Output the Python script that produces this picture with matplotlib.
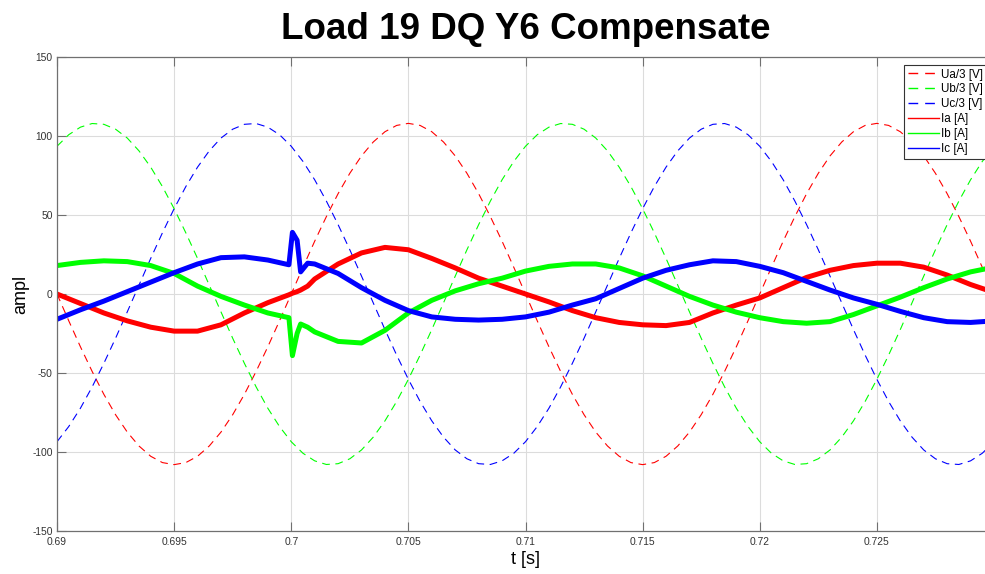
import numpy as np
from matplotlib import pyplot as plt

plt.rcParams['font.family'] = ['Liberation Sans', 'DejaVu Sans']
plt.rcParams['axes.unicode_minus'] = False

# phase voltages (divided by 3), sampled every 0.5 ms from t = 0.690 s
T0_U = 0.690
DT_U = 0.0005
UA = [
    0, -16.9, -33.4, -49.0, -63.5, -76.4, -87.4, -96.2, -102.7, -106.7,
    -108.0, -106.7, -102.7, -96.2, -87.4, -76.4, -63.5, -49.0, -33.4, -16.9,
    0, 16.9, 33.4, 49.0, 63.5, 76.4, 87.4, 96.2, 102.7, 106.7,
    108.0, 106.7, 102.7, 96.2, 87.4, 76.4, 63.5, 49.0, 33.4, 16.9,
    0, -16.9, -33.4, -49.0, -63.5, -76.4, -87.4, -96.2, -102.7, -106.7,
    -108.0, -106.7, -102.7, -96.2, -87.4, -76.4, -63.5, -49.0, -33.4, -16.9,
    0, 16.9, 33.4, 49.0, 63.5, 76.4, 87.4, 96.2, 102.7, 106.7,
    108.0, 106.7, 102.7, 96.2, 87.4, 76.4, 63.5, 49.0, 33.4, 16.9,
    0,
]
UB = [
    93.5, 100.8, 105.6, 107.9, 107.4, 104.3, 98.7, 90.6, 80.3, 68.0,
    54.0, 38.7, 22.5, 5.6, -11.3, -28.0, -43.9, -58.8, -72.3, -83.9,
    -93.5, -100.8, -105.6, -107.9, -107.4, -104.3, -98.7, -90.6, -80.3, -68.0,
    -54.0, -38.7, -22.5, -5.6, 11.3, 28.0, 43.9, 58.8, 72.3, 83.9,
    93.5, 100.8, 105.6, 107.9, 107.4, 104.3, 98.7, 90.6, 80.3, 68.0,
    54.0, 38.7, 22.5, 5.6, -11.3, -28.0, -43.9, -58.8, -72.3, -83.9,
    -93.5, -100.8, -105.6, -107.9, -107.4, -104.3, -98.7, -90.6, -80.3, -68.0,
    -54.0, -38.7, -22.5, -5.6, 11.3, 28.0, 43.9, 58.8, 72.3, 83.9,
    93.5,
]
UC = [
    -93.5, -83.9, -72.3, -58.8, -43.9, -28.0, -11.3, 5.6, 22.5, 38.7,
    54.0, 68.0, 80.3, 90.6, 98.7, 104.3, 107.4, 107.9, 105.6, 100.8,
    93.5, 83.9, 72.3, 58.8, 43.9, 28.0, 11.3, -5.6, -22.5, -38.7,
    -54.0, -68.0, -80.3, -90.6, -98.7, -104.3, -107.4, -107.9, -105.6, -100.8,
    -93.5, -83.9, -72.3, -58.8, -43.9, -28.0, -11.3, 5.6, 22.5, 38.7,
    54.0, 68.0, 80.3, 90.6, 98.7, 104.3, 107.4, 107.9, 105.6, 100.8,
    93.5, 83.9, 72.3, 58.8, 43.9, 28.0, 11.3, -5.6, -22.5, -38.7,
    -54.0, -68.0, -80.3, -90.6, -98.7, -104.3, -107.4, -107.9, -105.6, -100.8,
    -93.5,
]

# phase currents (denser around the switching transient at 0.7 s)
T_I = [
    0.690, 0.691, 0.692, 0.693, 0.694, 0.695, 0.696, 0.697, 0.698, 0.699,
    0.6999, 0.70005, 0.70025, 0.7004, 0.7007, 0.701, 0.702, 0.703, 0.704, 0.705,
    0.706, 0.707, 0.708, 0.709, 0.710, 0.711, 0.712, 0.713, 0.714, 0.715,
    0.716, 0.717, 0.718, 0.719, 0.720, 0.721, 0.722, 0.723, 0.724, 0.725,
    0.726, 0.727, 0.728, 0.729, 0.730,
]
IA = [
    0, -6, -12, -17, -21, -23.5, -23.5, -19.5, -12, -5.5,
    -0.5, 0.5, 1.5, 2.5, 5, 9.5, 19, 26, 29.5, 28,
    22.5, 16.5, 10, 5, 0, -5, -10.5, -15, -18, -19.5,
    -20, -18, -12, -7, -2.5, 4, 10.5, 15, 18, 19.5,
    19.5, 17, 12, 6, 1,
]
IB = [
    18, 20, 21, 20.5, 18, 13, 5, -1.5, -7, -12,
    -15, -39, -25, -19, -21, -24, -30, -31, -23, -12,
    -4, 2, 6.5, 10, 14.5, 17.5, 19, 19, 16.5, 11.5,
    5, -1.5, -7, -11.5, -15, -17.5, -18.5, -17.5, -13, -7.5,
    -2, 4, 9.5, 14, 17,
]
IC = [
    -16, -10, -4.5, 1.5, 7.5, 13.5, 19, 23, 23.5, 21.5,
    18.5, 39, 34, 14, 19.5, 19, 13, 4, -4, -10.5,
    -14.5, -16, -16.5, -16, -14.5, -11.5, -7, -3, 3.5, 10,
    15, 18.5, 21, 20.5, 17.5, 13.5, 8, 2.5, -2.5, -6.5,
    -11, -15, -17.5, -18, -17,
]

X_TICKS = [0.69, 0.695, 0.7, 0.705, 0.71, 0.715, 0.72, 0.725]
X_LABELS = ['0.69', '0.695', '0.7', '0.705', '0.71', '0.715', '0.72', '0.725']
Y_TICKS = [-150, -100, -50, 0, 50, 100, 150]

RED, GREEN, BLUE = '#ff0000', '#00ff00', '#0000ff'
AX_COLOR = '#707070'

t_u = T0_U + DT_U * np.arange(len(UA))

fig = plt.figure(figsize=(9.85, 5.74), dpi=100)
ax = fig.add_axes([57 / 985, 1 - 531 / 574, (994 - 57) / 985, (531 - 57) / 574])

dash = dict(linestyle='--', dashes=(7, 5), linewidth=0.8)
ax.plot(t_u, UA, color=RED, label='Ua/3 [V]', **dash)
ax.plot(t_u, UB, color=GREEN, label='Ub/3 [V]', **dash)
ax.plot(t_u, UC, color=BLUE, label='Uc/3 [V]', **dash)
ax.plot(T_I, IA, color=RED, linewidth=3.6, label='Ia [A]')
ax.plot(T_I, IB, color=GREEN, linewidth=3.6, label='Ib [A]')
ax.plot(T_I, IC, color=BLUE, linewidth=3.6, label='Ic [A]')

ax.set_xlim(0.69, 0.73)
ax.set_ylim(-150, 150)
ax.set_xticks(X_TICKS)
ax.set_xticklabels(X_LABELS)
ax.set_yticks(Y_TICKS)
ax.grid(True, color='#dcdcdc', linewidth=0.8)
ax.set_axisbelow(True)
ax.tick_params(direction='in', length=6.5, width=0.8, color=AX_COLOR,
               labelsize=7.4, labelcolor='#333333', top=True, right=True)
ax.tick_params(axis='x', pad=4)
ax.tick_params(axis='y', pad=3)
for s in ax.spines.values():
    s.set_color(AX_COLOR)
    s.set_linewidth(0.9)

ax.set_xlabel('t [s]', fontsize=13, labelpad=3)
ax.set_ylabel('ampl', fontsize=13, labelpad=2.5)
ax.set_title('Load 19 DQ Y6 Compensate', fontsize=26.5, fontweight='bold', pad=13)

leg = ax.legend(loc='upper left', bbox_to_anchor=(0.904, 0.983), fontsize=8.4,
                frameon=True, fancybox=False, framealpha=1, edgecolor='#333333',
                borderpad=0.3, labelspacing=0.25, handlelength=2.7, handletextpad=0.2,
                borderaxespad=0)
leg.get_frame().set_linewidth(0.8)
for line in leg.get_lines():
    line.set_linewidth(1.0)

fig.savefig('out.png', dpi=100)
